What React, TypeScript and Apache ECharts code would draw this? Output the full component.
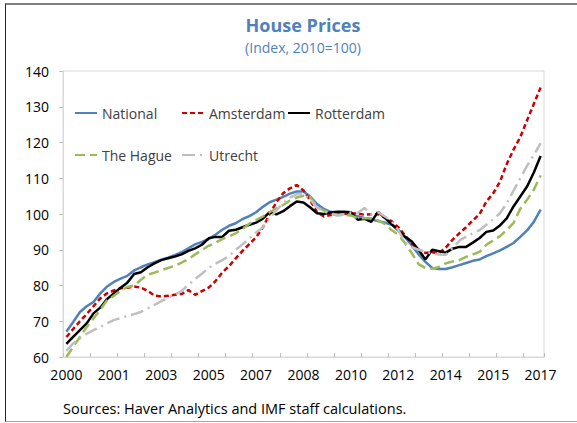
import React, { useEffect, useRef } from "react";
import * as echarts from "echarts";

const FONT = '"Open Sans", "Noto Sans", sans-serif';

const years = ["2000","2001","2002","2003","2004","2005","2006","2007","2008","2009","2010","2011","2012","2013","2014","2015","2016","2017"];
const quarters = ["Q1", "Q2", "Q3", "Q4"];
const lastCategory = "2017Q3";
const categories: string[] = [];
for (const y of years) for (const q of quarters) categories.push(y + q);
categories.splice(categories.indexOf(lastCategory) + 1);

const yTicks = { min: 60, max: 140, interval: 10 };

const national = [
  67.1, 69.8, 72.6, 74.2, 75.4, 77.8, 79.7, 81.0, 81.9, 82.7,
  84.2, 85.1, 85.9, 86.5, 87.2, 87.8, 88.5, 89.3, 90.4, 91.5,
  92.2, 93.0, 94.2, 95.6, 96.7, 97.4, 98.6, 99.4, 100.5, 102.0,
  103.3, 104.0, 104.8, 105.7, 106.3, 106.3, 104.9, 102.8, 101.4, 100.6,
  100.4, 100.1, 99.7, 99.4, 98.9, 98.5, 98.0, 97.6, 97.0, 95.6,
  93.5, 91.2, 88.7, 86.6, 84.9, 84.6, 84.6, 85.1, 85.7, 86.3,
  86.9, 87.3, 88.2, 89.0, 89.8, 90.8, 91.9, 93.6, 95.4, 97.8, 101.2,
];
const amsterdam = [
  65.6, 67.8, 70.0, 72.0, 74.2, 76.4, 77.8, 78.6, 79.2, 79.4,
  79.7, 79.4, 78.5, 77.2, 76.9, 77.1, 77.4, 77.6, 78.7, 77.4,
  78.4, 79.4, 81.2, 83.6, 85.4, 87.6, 89.7, 91.6, 93.5, 96.2,
  100.0, 103.3, 105.8, 107.2, 108.1, 106.6, 103.8, 100.5, 99.3, 99.7,
  99.8, 100.1, 100.2, 100.1, 99.8, 99.9, 100.0, 99.0, 98.0, 96.3,
  94.0, 91.7, 90.0, 89.1, 89.3, 89.0, 90.6, 92.8, 94.6, 96.3,
  98.2, 100.0, 103.5, 105.8, 109.0, 114.0, 118.0, 121.5, 126.2, 130.8, 135.4,
];
const rotterdam = [
  63.7, 65.6, 67.5, 69.4, 72.2, 73.8, 76.2, 77.8, 79.4, 80.8,
  83.2, 83.7, 85.1, 86.2, 87.1, 87.6, 88.1, 88.7, 89.7, 90.4,
  91.4, 93.2, 93.6, 93.6, 95.3, 95.6, 96.3, 97.0, 97.6, 98.7,
  100.5, 99.9, 100.8, 102.2, 103.5, 103.2, 101.8, 100.2, 100.0, 100.4,
  100.6, 100.6, 100.5, 98.4, 98.7, 97.8, 100.6, 98.9, 97.2, 95.4,
  93.6, 92.3, 89.9, 87.3, 90.0, 89.6, 89.2, 90.3, 90.8, 90.8,
  92.0, 93.3, 95.0, 95.4, 96.8, 98.8, 102.1, 104.9, 107.7, 111.6, 116.2,
];
const theHague = [
  60.0, 62.8, 65.6, 68.4, 70.8, 73.2, 75.9, 77.1, 78.5, 79.6,
  80.0, 81.6, 83.0, 83.6, 84.3, 84.9, 85.5, 86.4, 87.4, 88.7,
  89.9, 91.1, 92.0, 93.0, 93.7, 94.6, 95.8, 97.3, 98.3, 99.3,
  100.5, 101.6, 102.5, 103.8, 104.6, 105.1, 104.8, 102.0, 101.0, 100.2,
  99.7, 99.7, 99.6, 98.8, 98.8, 98.8, 98.2, 97.2, 95.5, 94.2,
  91.8, 89.0, 86.0, 84.9, 84.7, 85.2, 86.2, 86.7, 87.1, 88.0,
  88.7, 89.4, 91.4, 92.6, 93.8, 95.5, 97.5, 101.5, 104.0, 106.8, 110.8,
];
const utrecht = [
  61.7, 63.8, 65.2, 66.5, 67.5, 68.4, 69.4, 70.3, 70.9, 71.5,
  72.0, 72.6, 73.6, 74.6, 75.6, 76.6, 77.5, 78.4, 80.2, 81.8,
  83.3, 84.9, 86.1, 87.1, 88.2, 90.0, 91.5, 93.2, 94.8, 96.2,
  98.8, 101.0, 103.0, 104.6, 105.5, 105.6, 104.0, 101.8, 100.8, 100.0,
  99.6, 99.9, 100.4, 100.3, 101.7, 100.0, 100.5, 99.3, 98.0, 95.5,
  92.0, 90.7, 90.0, 89.4, 89.0, 88.7, 88.6, 90.5, 92.5, 93.7,
  94.6, 95.5, 97.0, 98.5, 100.2, 103.0, 106.5, 110.0, 113.5, 116.5, 119.8,
];

const seriesDefs = [
  { name: "National", data: national, color: "#4f81bd", type: "solid" as any },
  { name: "Amsterdam", data: amsterdam, color: "#cc0000", type: [5, 3] as any },
  { name: "Rotterdam", data: rotterdam, color: "#000000", type: "solid" as any },
  { name: "The Hague", data: theHague, color: "#9bbb59", type: [10, 5] as any },
  { name: "Utrecht", data: utrecht, color: "#bfbfbf", type: [13, 5, 2, 5] as any },
];

const legendPos: Record<string, [number, number]> = {
  National: [74, 106],
  Amsterdam: [181, 106],
  Rotterdam: [287, 106],
  "The Hague": [74, 148],
  Utrecht: [181, 148],
};

export default function App() {
  const ref = useRef<HTMLDivElement>(null);
  useEffect(() => {
    const chart = echarts.init(ref.current!, null, { renderer: "svg" });
    const option: any = {
      animation: false,
      grid: {
        left: 63,
        top: 71,
        right: 33,
        bottom: 66,
        show: true,
        borderColor: "#d9d9d9",
        borderWidth: 1,
        containLabel: false,
      },
      xAxis: {
        type: "category",
        data: categories,
        boundaryGap: true,
        axisLine: { lineStyle: { color: "#d9d9d9", width: 1 } },
        axisTick: {
          show: true,
          inside: true,
          length: 4,
          interval: 3,
          alignWithLabel: false,
          lineStyle: { color: "#bfbfbf" },
        },
        axisLabel: {
          interval: 6,
          margin: 10,
          color: "#000",
          fontSize: 14,
          fontFamily: FONT,
          formatter: (v: string) => v.slice(0, 4),
        },
        splitLine: { show: false },
      },
      yAxis: {
        type: "value",
        min: yTicks.min,
        max: yTicks.max,
        interval: yTicks.interval,
        axisLine: { show: true, lineStyle: { color: "#d9d9d9", width: 1 } },
        axisTick: { show: true, length: 4, lineStyle: { color: "#bfbfbf" } },
        axisLabel: { margin: 14, color: "#000", fontSize: 14, fontFamily: FONT },
        splitLine: { show: false },
      },
      legend: seriesDefs.map((s) => ({
        data: [s.name],
        left: legendPos[s.name][0],
        top: legendPos[s.name][1],
        padding: 0,
        itemWidth: 22,
        itemHeight: 14,
        itemGap: 0,
        selectedMode: false,
        itemStyle: { opacity: 0 },
        textStyle: { fontSize: 14, color: "#404040", fontFamily: FONT },
      })),
      graphic: [
        {
          type: "text",
          x: 303,
          y: 25,
          style: {
            text: "House Prices",
            fill: "#4f81bd",
            fontSize: 18,
            fontWeight: "bold",
            fontFamily: FONT,
            align: "center",
            verticalAlign: "middle",
            textAlign: "center",
            textVerticalAlign: "middle",
          },
        },
        {
          type: "text",
          x: 303,
          y: 47,
          style: {
            text: "(Index, 2010=100)",
            fill: "#4f81bd",
            fontSize: 14,
            fontFamily: FONT,
            align: "center",
            verticalAlign: "middle",
            textAlign: "center",
            textVerticalAlign: "middle",
          },
        },
        {
          type: "text",
          x: 63,
          y: 408,
          style: {
            text: "Sources: Haver Analytics and IMF staff calculations.",
            fill: "#000",
            fontSize: 14.5,
            fontFamily: FONT,
            align: "left",
            verticalAlign: "middle",
            textAlign: "left",
            textVerticalAlign: "middle",
          },
        },
      ],
      series: seriesDefs.map((s) => ({
        name: s.name,
        type: "line",
        data: s.data,
        symbol: "none",
        showSymbol: false,
        smooth: false,
        color: s.color,
        lineStyle: { color: s.color, width: 2.5, type: s.type, cap: "butt" },
        emphasis: { disabled: true },
      })),
    };
    chart.setOption(option);
    return () => chart.dispose();
  }, []);

  return (
    <div
      style={{
        position: "fixed",
        left: 0,
        top: 0,
        width: 577,
        height: 423,
        overflow: "hidden",
        background: "#fff",
      }}
    >
      <div
        style={{
          position: "absolute",
          left: 5,
          top: 3,
          width: 640,
          height: 416,
          borderTop: "2px solid #7f7f7f",
          borderLeft: "1px solid #262626",
          borderBottom: "1px solid #a6a6a6",
        }}
      />
      <div
        ref={ref}
        style={{ position: "absolute", left: 0, top: 0, width: 577, height: 423 }}
      />
    </div>
  );
}
